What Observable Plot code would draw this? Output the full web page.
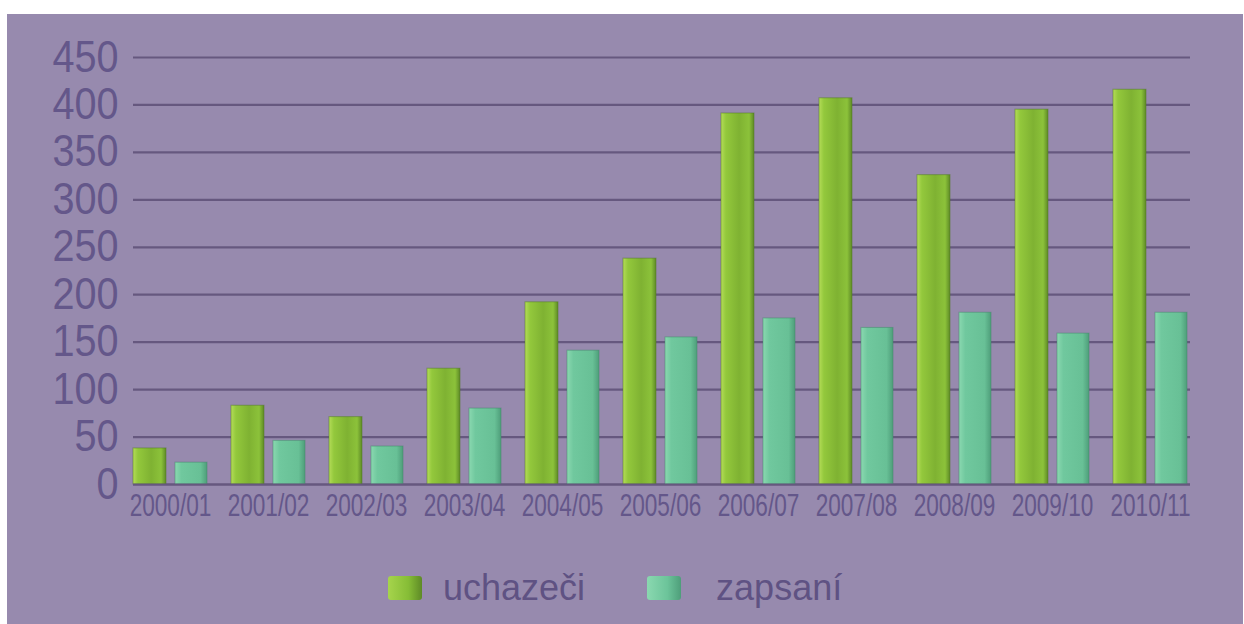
<!DOCTYPE html>
<html>
<head>
<meta charset="utf-8">
<script src="https://cdn.jsdelivr.net/npm/d3@7"></script>
<script src="https://cdn.jsdelivr.net/npm/@observablehq/plot@0.6"></script>
<style>
  html, body { margin: 0; padding: 0; background: #ffffff; }
  #wrap { position: relative; width: 1244px; height: 624px; overflow: hidden; }
  #panel { position: absolute; left: 7px; top: 14px; width: 1236px; height: 610px; background: #978aae; }
  #chart { position: absolute; left: 0; top: 0; }
  #legend { position: absolute; left: 388px; top: 568px; height: 40px; display: flex; align-items: center;
            font-family: "Liberation Sans", Arial, sans-serif; font-size: 36px; color: #5f5283; }
  .sw { display: inline-block; width: 34px; height: 24px; border-radius: 3px; }
</style>
</head>
<body>
<div id="wrap">
  <div id="panel"></div>
  <div id="chart"></div>
  <div id="legend"></div>
</div>
<script>
const years = ["2000/01","2001/02","2002/03","2003/04","2004/05","2005/06","2006/07","2007/08","2008/09","2009/10","2010/11"];
const uchazeci = [38, 83, 71, 122, 192, 238, 391, 407, 326, 395, 416];
const zapsani  = [23, 46, 40, 80, 141, 155, 175, 165, 181, 159, 181];
const yTicks = [0, 50, 100, 150, 200, 250, 300, 350, 400, 450];
const seriesNames = ["uchazeči", "zapsaní"];

const rows = years.map((y, i) => ({year: y, u: uchazeci[i], z: zapsani[i]}));

const textColor = "#64578a";
const gridColor = "#66587f";
const font = "'Liberation Sans', Arial, sans-serif";

const plot = Plot.plot({
  width: 1244,
  height: 540,
  marginLeft: 133,
  marginRight: 54,
  marginTop: 57,
  marginBottom: 56,
  style: {background: "transparent", color: textColor, overflow: "visible"},
  x: {domain: years, paddingInner: 0.25, paddingOuter: 0, align: 0, label: null},
  y: {domain: [0, 450], label: null},
  marks: [
    Plot.ruleY(yTicks, {stroke: gridColor, strokeWidth: 2.2}),
    Plot.barY(rows, {x: "year", y: "u", fill: "url(#gGreen)", insetRight: 41, stroke: "#4f7a22", strokeWidth: 1, strokeOpacity: 0.5}),
    Plot.barY(rows, {x: "year", y: "z", fill: "url(#gTeal)", insetLeft: 42, stroke: "#3f8a6a", strokeWidth: 1, strokeOpacity: 0.5}),
    Plot.ruleY([0], {stroke: gridColor, strokeWidth: 2.2}),
    Plot.axisY(yTicks, {tickSize: 0, tickPadding: 15, fontSize: 44, fill: textColor, fontFamily: font, label: null}),
    Plot.axisX({tickSize: 0, tickPadding: 9, fontSize: 26, fill: textColor, fontFamily: font, label: null})
  ]
});

// condense the tick labels horizontally, as in the original artwork
function squeeze(axis, sx, sy) {
  plot.querySelectorAll(`g[aria-label^="${axis}-axis"] text`).forEach(t => {
    let tr = t.getAttribute("transform");
    if (!tr) {
      const x = t.getAttribute("x") || 0, y = t.getAttribute("y") || 0;
      t.removeAttribute("x"); t.removeAttribute("y");
      tr = `translate(${x},${y})`;
    }
    t.setAttribute("transform", `${tr} scale(${sx},${sy})`);
  });
}
squeeze("y", 0.9, 1.0);
squeeze("x", 0.87, 1.2);

const defs = `
<defs>
  <linearGradient id="gGreen" x1="0" x2="1" y1="0" y2="0">
    <stop offset="0" stop-color="#b4dc58"/>
    <stop offset="0.15" stop-color="#93c83c"/>
    <stop offset="0.55" stop-color="#7fb232"/>
    <stop offset="0.85" stop-color="#8cc23a"/>
    <stop offset="1" stop-color="#5e8a26"/>
  </linearGradient>
  <linearGradient id="gTeal" x1="0" x2="1" y1="0" y2="0">
    <stop offset="0" stop-color="#8ad8b0"/>
    <stop offset="0.2" stop-color="#70c89e"/>
    <stop offset="0.8" stop-color="#68c096"/>
    <stop offset="1" stop-color="#4e9e7a"/>
  </linearGradient>
</defs>`;
plot.insertAdjacentHTML("afterbegin", defs);
document.getElementById("chart").appendChild(plot);

const legend = document.getElementById("legend");
const swMargins = [0, 62];
const txtMargins = [21, 35];
seriesNames.forEach((name, i) => {
  const sw = document.createElement("span");
  sw.className = "sw";
  sw.style.background = `linear-gradient(90deg, ${i === 0 ? "#a6d44c, #86bd36 60%, #5e8a26" : "#8ad8b0, #6cc49a 60%, #4e9e7a"})`;
  sw.style.marginLeft = swMargins[i] + "px";
  const t = document.createElement("span");
  t.textContent = name;
  t.style.marginLeft = txtMargins[i] + "px";
  legend.appendChild(sw);
  legend.appendChild(t);
});
</script>
</body>
</html>
